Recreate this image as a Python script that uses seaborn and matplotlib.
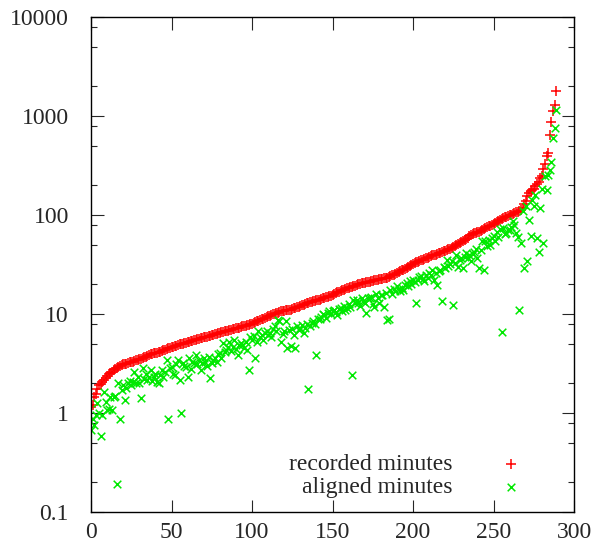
import numpy as np
import pandas as pd
import matplotlib
matplotlib.use('Agg')
import matplotlib.pyplot as plt
import matplotlib.ticker as mticker
import seaborn as sns

# recorded minutes per item, sorted ascending
recorded = [
    1.15, 1.2, 1.45, 1.55, 1.75, 1.9, 1.95, 2.05, 2.15, 2.25,
    2.35, 2.45, 2.55, 2.6, 2.7, 2.8, 2.85, 2.9, 3.0, 3.05,
    3.1, 3.1, 3.15, 3.2, 3.25, 3.3, 3.3, 3.35, 3.4, 3.45,
    3.5, 3.55, 3.6, 3.65, 3.7, 3.8, 3.85, 3.9, 3.95, 4.0,
    4.0, 4.05, 4.1, 4.15, 4.2, 4.3, 4.35, 4.4, 4.5, 4.55,
    4.6, 4.65, 4.7, 4.8, 4.85, 4.95, 5.0, 5.0, 5.05, 5.1,
    5.2, 5.25, 5.3, 5.35, 5.45, 5.5, 5.55, 5.6, 5.7, 5.75,
    5.8, 5.85, 5.9, 6.0, 6.05, 6.1, 6.15, 6.25, 6.35, 6.4,
    6.5, 6.55, 6.6, 6.7, 6.75, 6.8, 6.9, 6.95, 7.0, 7.1,
    7.2, 7.25, 7.3, 7.4, 7.5, 7.6, 7.65, 7.7, 7.8, 7.9,
    8.0, 8.1, 8.25, 8.4, 8.55, 8.7, 8.85, 9.0, 9.15, 9.3,
    9.5, 9.6, 9.75, 9.9, 10.0, 10.2, 10.35, 10.5, 10.6, 10.7,
    10.8, 10.85, 10.9, 10.95, 11.0, 11.2, 11.4, 11.6, 11.8, 11.9,
    12.0, 12.2, 12.4, 12.6, 12.8, 13.0, 13.1, 13.25, 13.4, 13.5,
    13.7, 13.85, 14.0, 14.2, 14.35, 14.5, 14.7, 14.9, 15.1, 15.3,
    15.6, 15.9, 16.2, 16.5, 16.8, 17.0, 17.3, 17.6, 18.0, 18.3,
    18.5, 18.7, 18.9, 19.1, 19.4, 19.8, 20.0, 20.2, 20.4, 20.6,
    20.8, 20.9, 21.0, 21.2, 21.4, 21.6, 21.8, 22.0, 22.2, 22.4,
    22.6, 22.8, 22.9, 23.0, 23.1, 23.5, 24.0, 24.5, 25.0, 25.5,
    26.0, 26.5, 27.0, 27.5, 28.0, 28.5, 29.2, 29.9, 30.6, 31.3,
    32.0, 32.7, 33.2, 33.7, 34.3, 34.9, 35.5, 36.0, 36.6, 37.2,
    37.8, 38.4, 39.0, 39.4, 39.8, 40.4, 41.0, 41.6, 42.3, 42.9,
    43.5, 44.2, 45.0, 45.8, 46.6, 47.4, 48.3, 49.5, 50.8, 52.1,
    53.4, 54.7, 56.0, 57.6, 59.2, 60.9, 62.6, 64.1, 65.7, 66.4,
    67.1, 67.8, 68.5, 70.0, 71.6, 73.2, 75.0, 76.6, 78.2, 79.8,
    81.4, 83.0, 85.0, 87.5, 90.0, 91.5, 93.0, 94.5, 96.0, 97.5,
    99.0, 100.0, 102.0, 104.0, 106.0, 108.0, 110.0, 113.0, 118.0, 130.0,
    140.0, 155.0, 165.0, 175.0, 180.0, 185.0, 195.0, 205.0, 215.0, 235.0,
    250.0, 290.0, 330.0, 390.0, 420.0, 650.0, 870.0, 1110.0, 1280.0, 1780.0,
]

# aligned minutes for the same items
aligned = [
    0.67, 0.88, 0.76, 0.95, 1.25, 1.0, 0.58, 0.95, 1.64, 1.3,
    1.07, 1.1, 1.46, 1.07, 1.46, 1.5, 0.19, 2.0, 0.88, 1.71,
    1.92, 1.35, 1.8, 2.0, 2.1, 1.9, 2.07, 2.6, 2.0, 2.3,
    2.0, 1.41, 2.85, 2.2, 2.5, 2.16, 2.33, 2.7, 2.1, 2.33,
    2.5, 2.07, 2.0, 2.4, 2.72, 2.3, 2.6, 3.44, 0.86, 2.83,
    2.94, 2.5, 2.42, 3.1, 3.44, 2.16, 1.0, 3.18, 3.0, 2.94,
    2.33, 3.57, 2.8, 3.3, 3.18, 3.86, 3.1, 3.44, 2.72, 3.2,
    3.57, 3.31, 3.0, 3.72, 2.24, 3.18, 3.4, 3.57, 3.3, 3.9,
    4.0, 3.6, 5.06, 4.1, 4.34, 4.6, 5.27, 4.2, 4.69, 5.48,
    4.4, 3.86, 4.9, 5.1, 4.87, 4.5, 5.27, 4.3, 2.72, 5.92,
    5.5, 6.0, 3.57, 5.2, 6.67, 5.8, 6.2, 5.5, 6.4, 6.67,
    6.15, 6.5, 5.9, 7.0, 7.48, 6.8, 8.7, 8.4, 5.27, 6.3,
    6.67, 8.4, 4.51, 6.9, 4.7, 7.0, 6.2, 4.5, 7.5, 6.9,
    7.2, 7.8, 6.5, 7.2, 8.0, 1.75, 7.5, 8.1, 8.5, 8.0,
    3.86, 8.8, 9.0, 9.4, 10.0, 9.8, 9.2, 10.3, 10.6, 10.0,
    10.8, 11.0, 10.5, 9.8, 11.2, 11.4, 10.6, 12.0, 11.0, 11.5,
    12.5, 11.9, 2.4, 14.0, 13.0, 14.0, 12.9, 12.0, 14.5, 13.5,
    13.0, 10.2, 14.5, 14.5, 15.0, 12.5, 11.9, 16.0, 14.5, 12.9,
    15.5, 15.6, 11.9, 16.3, 8.7, 9.0, 17.6, 16.0, 18.0, 17.0,
    19.0, 18.0, 16.9, 18.5, 17.6, 19.5, 20.5, 19.0, 21.3, 20.0,
    22.2, 21.0, 12.9, 22.0, 23.5, 24.0, 22.5, 21.3, 25.0, 23.1,
    26.0, 25.0, 28.1, 22.2, 26.0, 19.8, 27.0, 28.1, 13.4, 30.0,
    29.0, 35.3, 30.3, 32.0, 34.0, 12.4, 32.7, 39.8, 30.0, 35.0,
    36.7, 29.2, 38.0, 41.4, 37.0, 39.8, 34.0, 40.0, 42.0, 45.0,
    36.7, 29.2, 44.0, 54.2, 28.1, 54.0, 48.3, 56.4, 50.0, 58.0,
    61.0, 55.0, 68.0, 60.0, 72.0, 6.6, 74.0, 64.0, 66.0, 70.0,
    71.0, 75.0, 86.0, 80.0, 66.0, 60.0, 11.0, 52.0, 110.0, 29.0,
    123.0, 34.0, 90.0, 61.0, 143.0, 123.0, 160.0, 58.0, 42.0, 118.0,
    181.0, 52.0, 246.0, 178.0, 255.0, 287.0, 342.0, 600.0, 760.0, 1150.0,
]

x_ticks = [0, 50, 100, 150, 200, 250, 300]
y_ticks = [0.1, 1, 10, 100, 1000, 10000]
y_tick_labels = ['0.1', '1', '10', '100', '1000', '10000']

df = pd.DataFrame({
    'item': np.arange(len(recorded)),
    'recorded': recorded,
    'aligned': aligned,
})

sns.set_style('ticks')
plt.rcParams['font.family'] = ['Liberation Serif', 'DejaVu Serif']
plt.rcParams['font.size'] = 17

fig = plt.figure(figsize=(5.93, 5.44), dpi=100)
ax = fig.add_axes([0.1535, 0.0588, 0.8145, 0.91])

sns.scatterplot(data=df, x='item', y='recorded', marker='+', s=46,
                color='#ff0000', linewidth=1.1, label='recorded minutes', ax=ax)
sns.scatterplot(data=df, x='item', y='aligned', marker='x', s=30,
                color='#00e800', linewidth=1.1, label='aligned minutes', ax=ax)

ax.set_yscale('log')
ax.set_xlim(0, 300)
ax.set_ylim(0.1, 10000)
ax.set_xticks(x_ticks)
ax.set_xticklabels([str(t) for t in x_ticks])
ax.set_yticks(y_ticks)
ax.set_yticklabels(y_tick_labels)
ax.yaxis.set_minor_locator(mticker.LogLocator(base=10, subs=[2, 5, 8]))
ax.yaxis.set_minor_formatter(mticker.NullFormatter())
ax.set_xlabel('')
ax.set_ylabel('')

for s in ax.spines.values():
    s.set_visible(True)
    s.set_linewidth(1.0)
    s.set_color('black')

ax.tick_params(axis='both', which='major', direction='in', length=9,
               width=0.8, top=True, right=True, labelsize=17)
ax.tick_params(axis='y', which='major', pad=16)
ax.tick_params(axis='x', which='major', pad=7)
ax.tick_params(axis='y', which='minor', direction='in', length=4.5,
               width=0.8, left=True, right=True)
ax.grid(False)

ax.legend(loc='lower right', bbox_to_anchor=(0.919, 0.028), markerfirst=False,
          frameon=False, borderpad=0, borderaxespad=0, handlelength=2.0,
          handletextpad=1.5, labelspacing=0.05, scatterpoints=1, fontsize=17)

fig.savefig('out.png', dpi=100)
